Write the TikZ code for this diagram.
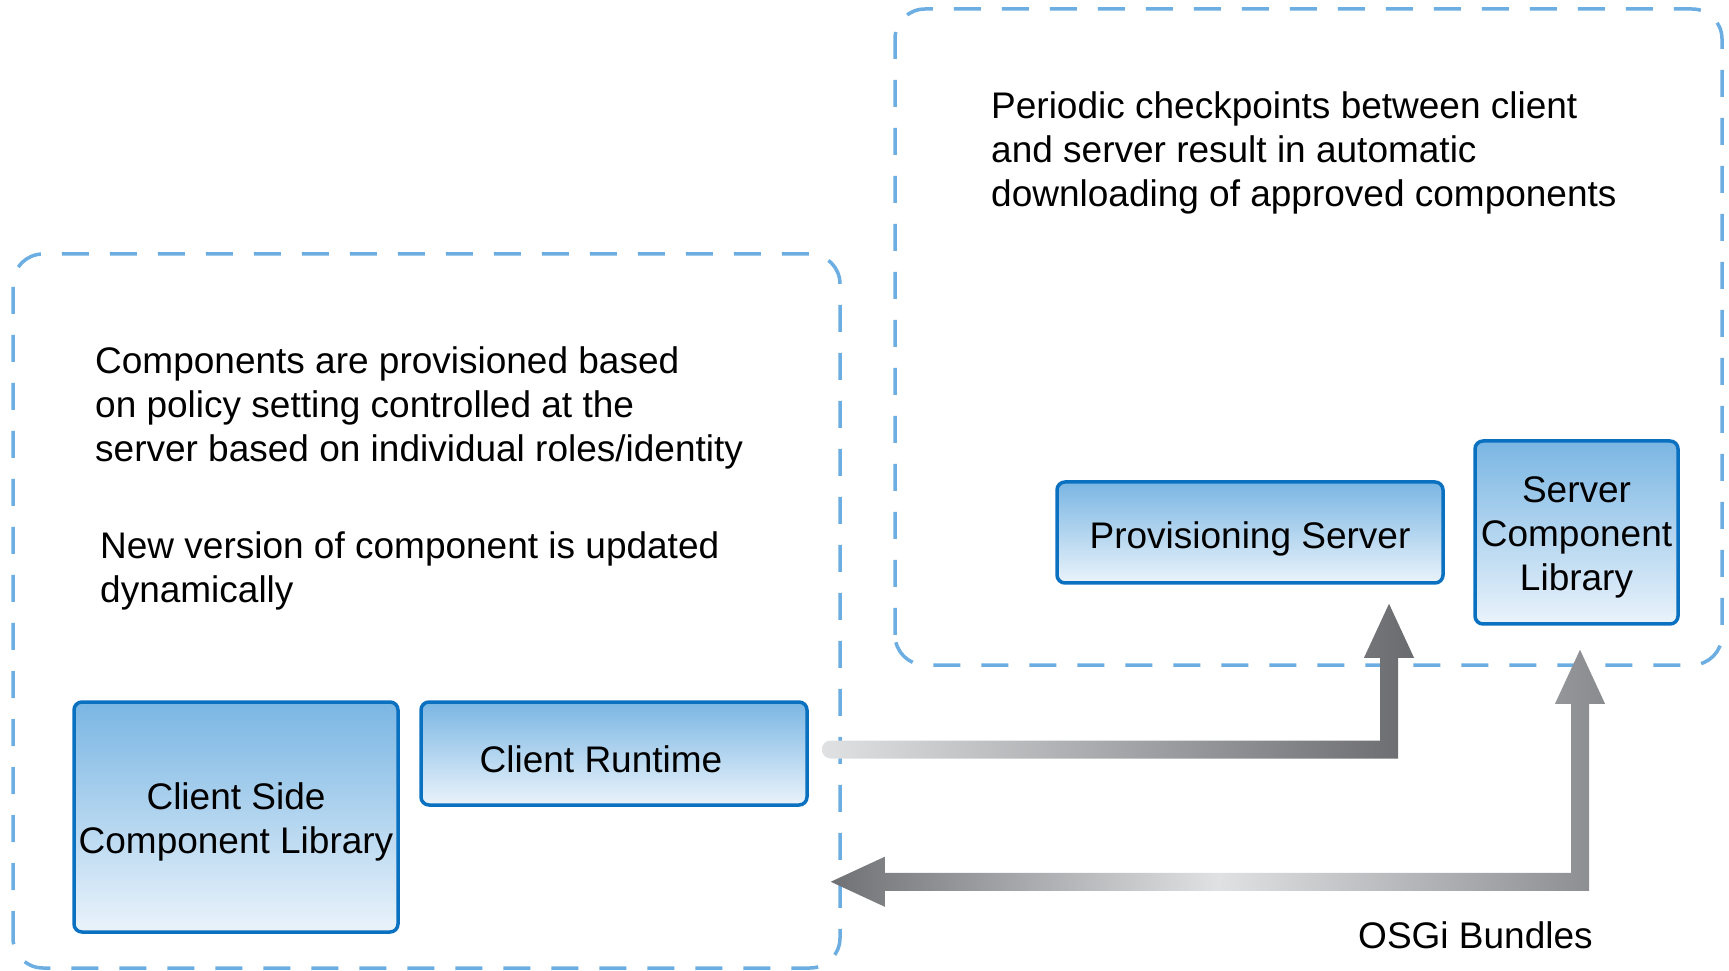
\documentclass[tikz,border=0pt]{standalone}
\usepackage{xcolor}
\usepackage{tikz}
\usepackage{fontspec}
\setmainfont{Liberation Sans}
\usetikzlibrary{calc}

\definecolor{zoneblue}{RGB}{108,174,226}
\definecolor{boxline}{RGB}{10,112,192}
\definecolor{boxtop}{RGB}{122,182,227}
\definecolor{boxbottom}{RGB}{234,243,251}
\definecolor{arrowdark}{RGB}{112,113,117}
\definecolor{arrowlight}{RGB}{224,225,227}
\definecolor{arrowmid}{RGB}{138,139,143}

\begin{document}
\begin{tikzpicture}[x=1pt,y=1pt,
        every node/.style={font=\fontsize{37}{44}\selectfont,inner sep=0pt},
        zone/.style={draw=zoneblue,line width=3.5pt,dash pattern=on 27pt off 21pt,rounded corners=30pt},
        comp/.style={draw=boxline,line width=3.5pt,rounded corners=8pt,top color=boxtop,bottom color=boxbottom,align=center,
            execute at begin node={\rule{0pt}{39pt}}},
        note/.style={align=left,anchor=north west}]
    \useasboundingbox (0,0) rectangle (1729,970);
    \draw[zone] (13,2) rectangle (840,716);
    \draw[zone] (895,305) rectangle (1722,961);

    \node[note] (policytxt) at (95,624) {Components are provisioned based\\on policy setting controlled at the\\server based on individual roles/identity};
    \node[note] (versiontxt) at (100,439) {New version of component is updated\\dynamically};
    \node[note] (checktxt) at (991,879) {Periodic checkpoints between client\\and server result in automatic\\downloading of approved components};

    \node[comp,minimum width=324pt,minimum height=230pt] (csl) at (236,153) {\rule{0pt}{36pt}Client Side\\Component Library};
    \node[comp,minimum width=386pt,minimum height=103pt] (rt) at (614,216.5) {Client Runtime\hspace*{26pt}};
    \node[comp,minimum width=386pt,minimum height=101pt] (ps) at (1250,437.5) {Provisioning Server};
    \node[comp,minimum width=203pt,minimum height=183pt] (scl) at (1576.5,437.5) {\rule{0pt}{36pt}Server\\Component\\Library};
    \node[anchor=base west] (osgitxt) at (1358,22) {OSGi Bundles};

    % arrow ends
    \coordinate (rtout) at ($(rt.east)+(22,4)$);
    \coordinate (psin) at ($(ps.south)+(139,-19)$);
    \coordinate (sclin) at ($(scl.south)+(3.5,-24)$);
    \coordinate (bundlecorner) at ($(sclin)+(0,-232)$);
    \coordinate (cslin) at (rtout |- bundlecorner);

    \shade[left color=arrowlight,right color=arrowdark!95!black]
        let \p1=(rtout), \p2=(psin) in
        (\x1,\y1+9pt) -- (\x2-9pt,\y1+9pt) -- (\x2-9pt,\y2-54pt) -- (\x2-25pt,\y2-54pt) -- (\p2)
        -- (\x2+25pt,\y2-54pt) -- (\x2+9pt,\y2-54pt) -- (\x2+9pt,\y1-9pt) -- (\x1,\y1-9pt)
        arc[start angle=270,end angle=90,radius=9pt] -- cycle;
    \shade[left color=arrowdark,right color=arrowmid,middle color=arrowlight]
        let \p1=(cslin), \p2=(bundlecorner), \p3=(sclin) in
        (\p1) -- (\x1+54pt,\y1+25pt) -- (\x1+54pt,\y1+9pt) -- (\x2-9pt,\y2+9pt) -- (\x2-9pt,\y3-54pt)
        -- (\x2-25pt,\y3-54pt) -- (\p3) -- (\x2+25pt,\y3-54pt) -- (\x2+9pt,\y3-54pt) -- (\x2+9pt,\y2-9pt)
        -- (\x1+54pt,\y1-9pt) -- (\x1+54pt,\y1-25pt) -- cycle;
\end{tikzpicture}
\end{document}
